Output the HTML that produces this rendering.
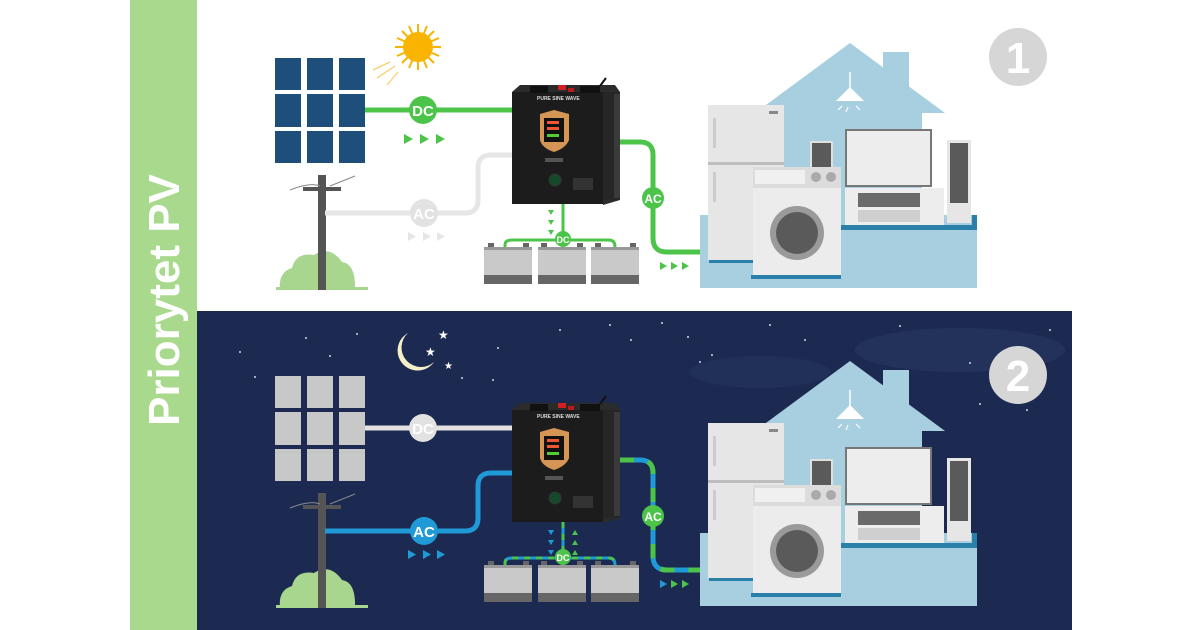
<!DOCTYPE html>
<html><head><meta charset="utf-8"><style>
html,body{margin:0;padding:0;background:#fff;}
svg{display:block;font-family:"Liberation Sans",sans-serif;}
</style></head><body>
<svg width="1200" height="630" viewBox="0 0 1200 630" xmlns="http://www.w3.org/2000/svg">
<defs>
  <g id="inv">
    <polygon points="512,92 520,85 615,85 620,92 620,200 603,205 603,92" fill="#2b2b2b"/>
    <rect x="512" y="92" width="91" height="112" fill="#1c1c1c"/>
    <rect x="603" y="92" width="17" height="108" fill="#262626"/>
    <rect x="614" y="94" width="6" height="104" fill="#3a3a3a"/>
    <rect x="530" y="86" width="18" height="7" fill="#111"/>
    <rect x="580" y="86" width="20" height="7" fill="#111"/>
    <rect x="558" y="85" width="8" height="5" fill="#d02020"/>
    <rect x="568" y="88" width="6" height="4" fill="#c01818"/>
    <line x1="600" y1="86" x2="606" y2="78" stroke="#111" stroke-width="2"/>
    <path d="M540,114 L554,110 L569,114 L569,140 Q566,148 554,152 Q542,148 540,140 Z" fill="#d59555"/>
    <rect x="544" y="118" width="20" height="24" fill="#111"/>
    <rect x="547" y="121" width="12" height="3" fill="#e53"/>
    <rect x="547" y="127" width="12" height="3" fill="#e53"/>
    <rect x="547" y="134" width="12" height="3" fill="#5c3"/>
    <rect x="545" y="158" width="18" height="4" fill="#555"/>
    <circle cx="555" cy="180" r="6" fill="#144a2a" stroke="#333"/>
    <rect x="573" y="178" width="20" height="12" fill="#333"/>
  </g>
  <g id="bats">
    <g fill="#c9c9c9">
      <rect x="484" y="250" width="48" height="30"/><rect x="538" y="250" width="48" height="30"/><rect x="591" y="250" width="48" height="30"/>
    </g>
    <g fill="#666">
      <rect x="484" y="275" width="48" height="9"/><rect x="538" y="275" width="48" height="9"/><rect x="591" y="275" width="48" height="9"/>
      <rect x="484" y="247" width="48" height="3" fill="#999"/><rect x="538" y="247" width="48" height="3" fill="#999"/><rect x="591" y="247" width="48" height="3" fill="#999"/>
      <rect x="488" y="243" width="6" height="4"/><rect x="523" y="243" width="6" height="4"/>
      <rect x="541" y="243" width="6" height="4"/><rect x="577" y="243" width="6" height="4"/>
      <rect x="595" y="243" width="6" height="4"/><rect x="630" y="243" width="6" height="4"/>
    </g>
  </g>
  <g id="pole">
    <path d="M280,290 Q278,272 292,268 Q296,252 314,255 Q330,245 342,262 Q356,264 355,290 Z" fill="#a9d68e"/>
    <rect x="276" y="287" width="92" height="3" fill="#a9d68e"/>
    <rect x="318" y="175" width="8" height="115" fill="#555"/>
    <rect x="303" y="187" width="38" height="4" fill="#555"/>
    <path d="M290,190 Q310,182 320,186 M330,186 Q345,180 355,176" stroke="#888" fill="none" stroke-width="1"/>
  </g>
  <g id="house">
    <polygon points="850,43 755,113 945,113" fill="#a8cfe0"/>
    <rect x="883" y="52" width="26" height="50" fill="#a8cfe0"/>
    <rect x="760" y="110" width="162" height="110" fill="#a8cfe0"/>
    <rect x="700" y="215" width="277" height="73" fill="#a8cfe0"/>
    <rect x="841" y="225" width="136" height="5" fill="#2a80a8"/>
    <rect x="972" y="215" width="5" height="15" fill="#2a80a8"/>
    <rect x="709" y="259" width="44" height="4" fill="#2a80a8"/>
    <rect x="751" y="275" width="90" height="4" fill="#2a80a8"/>
    <line x1="850" y1="72" x2="850" y2="88" stroke="#fff" stroke-width="1.5"/>
    <polygon points="850,87 836,101 864,101" fill="#fff"/>
    <path d="M842,106 L838,110 M848,107 L846,112 M856,106 L860,110" stroke="#fff" stroke-width="1.2"/>
    <rect x="708" y="105" width="76" height="155" fill="#e6e6e6"/>
    <rect x="708" y="162" width="76" height="3" fill="#bdbdbd"/>
    <rect x="713" y="118" width="3" height="30" fill="#ccc"/>
    <rect x="713" y="172" width="3" height="30" fill="#ccc"/>
    <rect x="769" y="111" width="9" height="3" fill="#888"/>
    <rect x="810" y="141" width="23" height="27" fill="#e0e0e0"/>
    <rect x="812" y="143" width="19" height="24" fill="#5a5a5a"/>
    <rect x="845" y="129" width="87" height="58" fill="#777"/>
    <rect x="847" y="131" width="83" height="54" fill="#ededed"/>
    <rect x="845" y="188" width="99" height="37" fill="#ededed"/>
    <rect x="858" y="193" width="62" height="14" fill="#6a6a6a"/>
    <rect x="858" y="210" width="62" height="12" fill="#cfcfcf"/>
    <rect x="947" y="140" width="24" height="83" fill="#e6e6e6"/>
    <rect x="950" y="143" width="18" height="60" fill="#5a5a5a"/>
    <rect x="753" y="167" width="88" height="21" fill="#dcdcdc"/>
    <rect x="755" y="170" width="50" height="14" fill="#f0f0f0"/>
    <circle cx="816" cy="177" r="5" fill="#aaa"/><circle cx="831" cy="177" r="5" fill="#aaa"/>
    <rect x="753" y="188" width="88" height="87" fill="#ececec"/>
    <circle cx="797" cy="233" r="27" fill="#9a9a9a"/>
    <circle cx="797" cy="233" r="21" fill="#5a5a5a"/>
  </g>
  <g id="panels">
    <rect x="275" y="58" width="26" height="32"/><rect x="307" y="58" width="26" height="32"/><rect x="339" y="58" width="26" height="32"/>
    <rect x="275" y="94" width="26" height="33"/><rect x="307" y="94" width="26" height="33"/><rect x="339" y="94" width="26" height="33"/>
    <rect x="275" y="131" width="26" height="32"/><rect x="307" y="131" width="26" height="32"/><rect x="339" y="131" width="26" height="32"/>
  </g>
</defs>

<rect x="130" y="0" width="67" height="630" fill="#a8d98c"/>
<text transform="translate(179,300) rotate(-90)" text-anchor="middle" font-size="44" font-weight="bold" fill="#fff">Priorytet PV</text>

<!-- TOP -->
<use href="#panels" fill="#1d4f7a"/>
<g>
  <circle cx="418" cy="47" r="15" fill="#f8b400"/>
  <g stroke="#f8b400" stroke-width="2">
    <line x1="418" y1="24" x2="418" y2="70"/><line x1="395" y1="47" x2="441" y2="47"/>
    <line x1="402" y1="31" x2="434" y2="63"/><line x1="434" y1="31" x2="402" y2="63"/>
    <line x1="409" y1="26" x2="427" y2="68"/><line x1="427" y1="26" x2="409" y2="68"/>
    <line x1="397" y1="38" x2="439" y2="56"/><line x1="439" y1="38" x2="397" y2="56"/>
  </g>
  <g stroke="#f8d070" stroke-width="1.3"><line x1="373" y1="70" x2="390" y2="62"/><line x1="377" y1="78" x2="395" y2="66"/><line x1="387" y1="85" x2="398" y2="72"/></g>
</g>
<use href="#pole"/>
<path d="M325,213 H465 Q478,213 478,200 V168 Q478,155 491,155 H512" stroke="#e6e6e6" stroke-width="5" fill="none"/>
<circle cx="424" cy="213" r="14" fill="#e2e2e2"/>
<text x="424" y="219" text-anchor="middle" font-size="15" font-weight="bold" fill="#fff">AC</text>
<g fill="#e6e6e6"><polygon points="408,232 408,241 416,236.5"/><polygon points="423,232 423,241 431,236.5"/><polygon points="437,232 437,241 445,236.5"/></g>
<line x1="365" y1="110" x2="512" y2="110" stroke="#4cc44a" stroke-width="5"/>
<circle cx="423" cy="110" r="14" fill="#4cc44a"/>
<text x="423" y="116" text-anchor="middle" font-size="15" font-weight="bold" fill="#fff">DC</text>
<g fill="#4cc44a"><polygon points="404,134 404,144 413,139"/><polygon points="420,134 420,144 429,139"/><polygon points="436,134 436,144 445,139"/></g>
<path d="M620,142 H640 Q653,142 653,155 V238 Q653,252 667,252 H702" stroke="#4cc44a" stroke-width="5" fill="none"/>
<circle cx="653" cy="198" r="11" fill="#4cc44a"/>
<text x="653" y="203" text-anchor="middle" font-size="12" font-weight="bold" fill="#fff">AC</text>
<g fill="#4cc44a"><polygon points="660,262 660,270 667,266"/><polygon points="671,262 671,270 678,266"/><polygon points="682,262 682,270 689,266"/></g>
<path d="M563,204 V240 M505,247 V245 Q505,240 512,240 H609 Q615,240 615,247 M563,240 V247" stroke="#4cc44a" stroke-width="3" fill="none"/>
<circle cx="563" cy="239" r="8" fill="#4cc44a"/>
<text x="563" y="243" text-anchor="middle" font-size="9" font-weight="bold" fill="#fff">DC</text>
<g fill="#4cc44a"><polygon points="548,210 554,210 551,215"/><polygon points="548,220 554,220 551,225"/><polygon points="548,230 554,230 551,235"/></g>
<use href="#bats"/>
<use href="#inv"/>
<text x="537" y="100" font-size="5" font-weight="bold" fill="#ddd">PURE SINE WAVE</text>
<use href="#house"/>
<circle cx="1018" cy="57" r="29" fill="#d6d6d6"/>
<text x="1018" y="73" text-anchor="middle" font-size="44" font-weight="bold" fill="#fff">1</text>

<!-- BOTTOM -->
<rect x="197" y="311" width="875" height="319" fill="#1c2a52"/>
<ellipse cx="960" cy="350" rx="105" ry="22" fill="#2a3a63" opacity="0.5"/>
<ellipse cx="760" cy="372" rx="70" ry="16" fill="#2a3a63" opacity="0.4"/>
<g fill="#cfd6e6">
  <circle cx="240" cy="352" r="1"/><circle cx="306" cy="338" r="1"/><circle cx="330" cy="356" r="1"/><circle cx="357" cy="334" r="1"/>
  <circle cx="498" cy="348" r="1"/><circle cx="462" cy="378" r="1"/><circle cx="493" cy="380" r="1"/><circle cx="560" cy="330" r="1"/>
  <circle cx="610" cy="325" r="1"/><circle cx="631" cy="340" r="1"/><circle cx="662" cy="323" r="1"/><circle cx="688" cy="337" r="1"/>
  <circle cx="700" cy="362" r="1"/><circle cx="712" cy="355" r="1"/><circle cx="770" cy="325" r="1"/><circle cx="805" cy="340" r="1"/>
  <circle cx="900" cy="326" r="1"/><circle cx="970" cy="363" r="1"/><circle cx="980" cy="404" r="1"/><circle cx="1027" cy="410" r="1"/>
  <circle cx="255" cy="377" r="1"/><circle cx="1050" cy="330" r="1"/><circle cx="880" cy="395" r="1"/>
</g>
<path d="M408,333 A20,20 0 1 0 434,362 A17,17 0 1 1 408,333 Z" fill="#f3efc9"/>
<g fill="#fff" font-size="12"><text x="438" y="339">★</text><text x="425" y="356">★</text><text x="444" y="369" font-size="10">★</text></g>
<use href="#panels" y="318" fill="#c8c8c8"/>
<use href="#pole" y="318"/>
<path d="M325,531 H465 Q478,531 478,518 V486 Q478,473 491,473 H512" stroke="#1f9ad6" stroke-width="5" fill="none"/>
<circle cx="424" cy="531" r="14" fill="#1f9ad6"/>
<text x="424" y="537" text-anchor="middle" font-size="15" font-weight="bold" fill="#fff">AC</text>
<g fill="#1f9ad6"><polygon points="408,550 408,559 416,554.5"/><polygon points="423,550 423,559 431,554.5"/><polygon points="437,550 437,559 445,554.5"/></g>
<line x1="365" y1="428" x2="512" y2="428" stroke="#e2e2e2" stroke-width="5"/>
<circle cx="423" cy="428" r="14" fill="#e2e2e2"/>
<text x="423" y="434" text-anchor="middle" font-size="15" font-weight="bold" fill="#fff">DC</text>
<path d="M620,460 H640 Q653,460 653,473 V556 Q653,570 667,570 H702" stroke="#1f9ad6" stroke-width="5" fill="none"/>
<path d="M620,460 H640 Q653,460 653,473 V556 Q653,570 667,570 H702" stroke="#4cc44a" stroke-width="5" fill="none" stroke-dasharray="14 14"/>
<circle cx="653" cy="516" r="11" fill="#4cc44a"/>
<text x="653" y="521" text-anchor="middle" font-size="12" font-weight="bold" fill="#fff">AC</text>
<g><polygon points="660,580 660,588 667,584" fill="#1f9ad6"/><polygon points="671,580 671,588 678,584" fill="#4cc44a"/><polygon points="682,580 682,588 689,584" fill="#4cc44a"/></g>
<path d="M563,522 V558 M505,565 V563 Q505,558 512,558 H609 Q615,558 615,565 M563,558 V565" stroke="#1f9ad6" stroke-width="3" fill="none"/>
<path d="M563,522 V558 M505,565 V563 Q505,558 512,558 H609 Q615,558 615,565" stroke="#4cc44a" stroke-width="3" fill="none" stroke-dasharray="6 6"/>
<circle cx="563" cy="557" r="8" fill="#4cc44a"/>
<text x="563" y="561" text-anchor="middle" font-size="9" font-weight="bold" fill="#fff">DC</text>
<g fill="#1f9ad6"><polygon points="548,530 554,530 551,535"/><polygon points="548,540 554,540 551,545"/><polygon points="548,550 554,550 551,555"/></g>
<g fill="#4cc44a"><polygon points="572,535 578,535 575,530"/><polygon points="572,545 578,545 575,540"/><polygon points="572,555 578,555 575,550"/></g>
<use href="#bats" y="318"/>
<use href="#inv" y="318"/>
<text x="537" y="418" font-size="5" font-weight="bold" fill="#ddd">PURE SINE WAVE</text>
<use href="#house" y="318"/>
<circle cx="1018" cy="375" r="29" fill="#d6d6d6"/>
<text x="1018" y="391" text-anchor="middle" font-size="44" font-weight="bold" fill="#fff">2</text>
</svg>
</body></html>
